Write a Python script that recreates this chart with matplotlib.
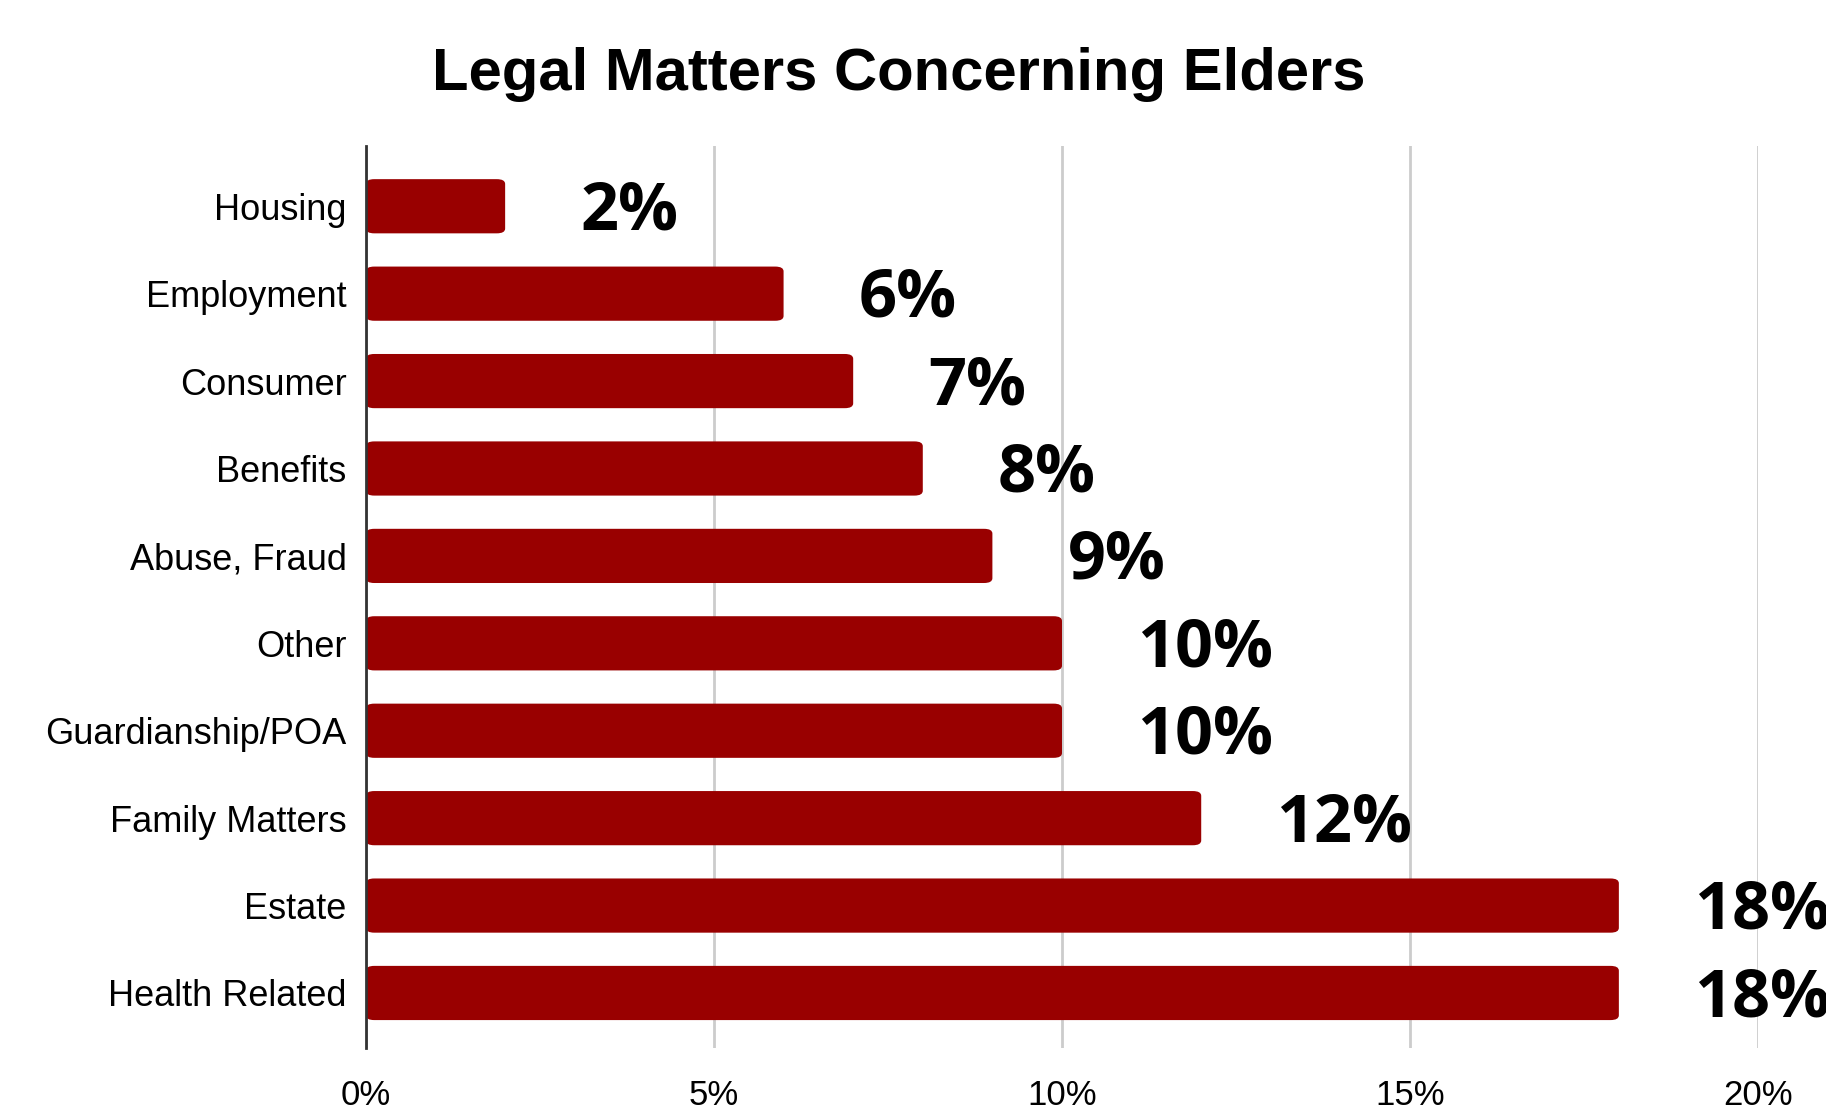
import matplotlib.pyplot as plt
from matplotlib.patches import FancyBboxPatch

categories = ['Housing', 'Employment', 'Consumer', 'Benefits', 'Abuse, Fraud',
              'Other', 'Guardianship/POA', 'Family Matters', 'Estate', 'Health Related']
values = [2, 6, 7, 8, 9, 10, 10, 12, 18, 18]
xticks = [0, 5, 10, 15, 20]
xtick_labels = ['0%', '5%', '10%', '15%', '20%']

bar_color = '#990000'

fig = plt.figure(figsize=(18.26, 11.14), dpi=100)
ax = fig.add_axes([0.2004, 0.0592, 0.7624, 0.8098])

ypos = list(range(len(categories)))[::-1]
bars = ax.barh(ypos, values, height=0.62, color=bar_color, zorder=3)

# swap the plain rectangles for slightly rounded ones
for b in bars:
    x0, y0 = b.get_x(), b.get_y()
    w, h = b.get_width(), b.get_height()
    b.set_visible(False)
    rb = FancyBboxPatch((x0, y0), w, h, boxstyle='round,pad=0,rounding_size=0.12',
                        mutation_aspect=0.45,
                        facecolor=bar_color, edgecolor='none', zorder=3)
    ax.add_patch(rb)

# value labels; the 18% ones run off the right edge like in the original
for y, v in zip(ypos, values):
    ax.annotate(f'{v}%', xy=(v, y), xytext=(54, -4), textcoords='offset points',
                ha='left', va='center', fontsize=48, fontweight='bold',
                family='Open Sans', color='black', annotation_clip=False, zorder=4)

ax.set_xlim(0, 20)
ax.set_ylim(-0.63, 9.69)
ax.set_xticks(xticks)
ax.set_xticklabels(xtick_labels, fontsize=25, family='Liberation Sans')
ax.set_yticks(ypos)
ax.set_yticklabels(categories, fontsize=26, family='Liberation Sans')
ax.tick_params(axis='both', length=0)
ax.tick_params(axis='x', pad=22)
ax.tick_params(axis='y', pad=14)

ax.grid(axis='x', color='#cccccc', linewidth=2, zorder=0)
ax.set_axisbelow(True)
for s in ['top', 'right', 'bottom']:
    ax.spines[s].set_visible(False)
ax.spines['left'].set_color('#333333')
ax.spines['left'].set_linewidth(2)
ax.spines['left'].set_zorder(5)

fig.text(0.492, 0.919, 'Legal Matters Concerning Elders', ha='center', va='baseline',
         fontsize=43, fontweight='bold', family='Liberation Sans')

fig.savefig('out.png', dpi=100)
